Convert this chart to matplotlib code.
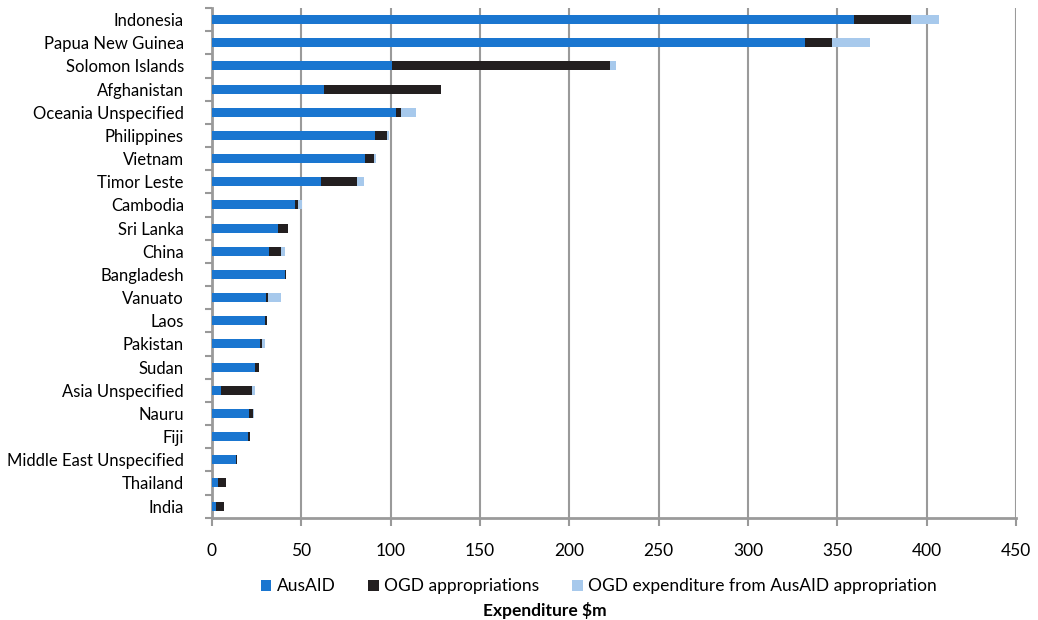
import matplotlib.pyplot as plt
import numpy as np

countries = ["Indonesia", "Papua New Guinea", "Solomon Islands", "Afghanistan",
             "Oceania Unspecified", "Philippines", "Vietnam", "Timor Leste",
             "Cambodia", "Sri Lanka", "China", "Bangladesh", "Vanuato", "Laos",
             "Pakistan", "Sudan", "Asia Unspecified", "Nauru", "Fiji",
             "Middle East Unspecified", "Thailand", "India"]

# expenditure in $m per source
ausaid = [359, 332, 101, 63, 103, 91.5, 86, 61, 46.5, 37, 32.3, 41, 30.2, 29.7,
          27, 24, 5.4, 21, 20, 13.4, 3.7, 2.6]
ogd_approp = [32, 15, 121.5, 65, 3, 6.5, 4.7, 20, 1.8, 5.7, 6.3, 0.8, 1.1, 1.2,
              1.3, 2.3, 17.2, 2.2, 1.5, 1.0, 4.3, 4.5]
ogd_from_ausaid = [16, 21, 3.5, 0.4, 8.5, 1, 1.3, 4, 2.2, 0, 2.6, 0, 7.7, 0,
                   1.3, 0, 1.7, 0.6, 0, 0, 0, 0]

plt.rcParams['font.family'] = ['Lato', 'DejaVu Sans']

fig, ax = plt.subplots(figsize=(10.38, 6.2), dpi=100)
fig.subplots_adjust(left=0.204, right=0.979, top=0.987, bottom=0.165)

y = np.arange(len(countries))
a = np.array(ausaid)
b = np.array(ogd_approp)
c = np.array(ogd_from_ausaid)
h = 0.39
ax.barh(y, a, height=h, color='#1a76d0', label='AusAID', zorder=3)
ax.barh(y, b, height=h, left=a, color='#231f20', label='OGD appropriations', zorder=3)
ax.barh(y, c, height=h, left=a + b, color='#a7c9ec',
        label='OGD expenditure from AusAID appropriation', zorder=3)

ax.set_ylim(len(countries) - 0.5, -0.5)
ax.set_xlim(0, 450)
ax.set_xticks(np.arange(0, 451, 50))
ax.set_yticks(y)
ax.set_yticklabels(countries, fontsize=12)
ax.set_yticks(np.arange(-0.5, len(countries), 1), minor=True)
ax.tick_params(axis='y', which='major', length=0, pad=20)
ax.tick_params(axis='y', which='minor', length=5, width=1.5, color='#999999')
ax.tick_params(axis='x', length=6, width=1.5, color='#999999', labelsize=12.5, pad=12)

ax.grid(axis='x', color='#9a9a9a', linewidth=1.5, zorder=0)
for s in ['top', 'right']:
    ax.spines[s].set_visible(False)
for s in ['left', 'bottom']:
    ax.spines[s].set_color('#9a9a9a')
    ax.spines[s].set_linewidth(2)

ax.set_xlabel('Expenditure $m', fontsize=12.5, fontweight='bold')
ax.xaxis.set_label_coords(0.414, -0.165)
ax.legend(loc='upper center', bbox_to_anchor=(0.481, -0.088), ncol=3, frameon=False,
          fontsize=12.5, handlelength=0.6, handleheight=0.6, handletextpad=0.3,
          columnspacing=1.9)

fig.savefig('out.png')
